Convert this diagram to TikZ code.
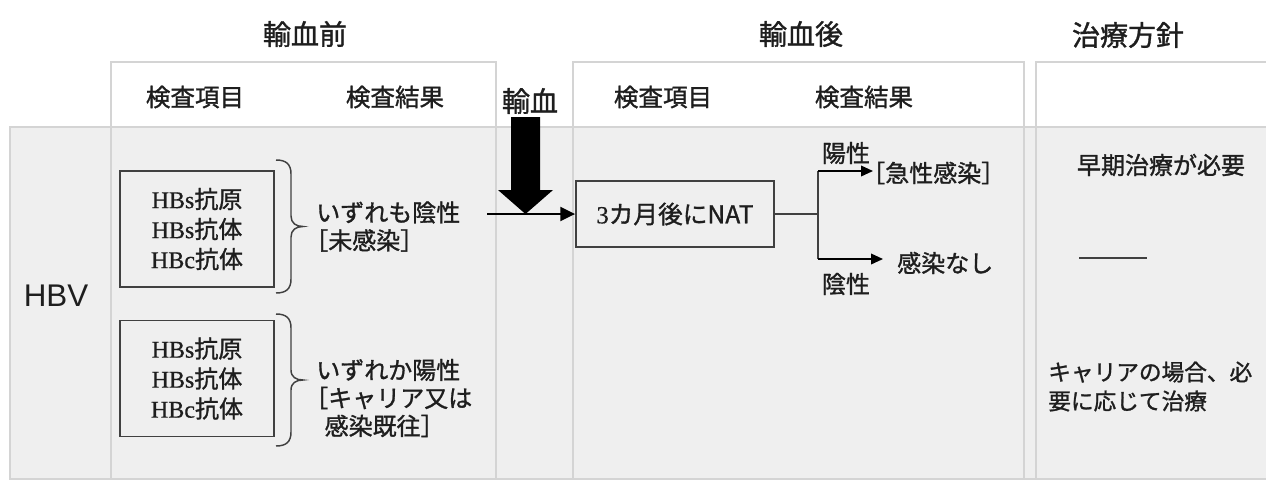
\documentclass[tikz,border=0pt]{standalone}
\usepackage{fontspec}
\setmainfont{Liberation Serif}[FakeBold=0.6]
\newfontfamily\jp{Noto Sans CJK JP}[FakeBold=1.2]
\newfontfamily\jph{Noto Sans CJK JP}[RawFeature=+halt,FakeBold=1.2]
\newfontfamily\arialf{Liberation Sans}
\usetikzlibrary{arrows.meta}
\definecolor{band}{HTML}{EFEFEF}
\definecolor{grid}{HTML}{D4D4D4}
\definecolor{ink}{HTML}{1E1E1E}
\definecolor{boxc}{HTML}{404040}
\newcommand\lbk{{\jph ［}}
\newcommand\rbk{{\jph ］}}
\newcommand\hbl[2]{#1{\jp #2}}
\tikzset{
  txt/.style={font=\jp\fontsize{18}{21}\selectfont, text=ink, inner sep=0pt, align=left},
  titletxt/.style={font=\jp\fontsize{21}{24}\selectfont, text=ink, inner sep=0pt},
  headtxt/.style={font=\jp\fontsize{18.4}{22}\selectfont, text=ink, inner sep=0pt},
  testbox/.style={draw=boxc, line width=1.4pt, minimum width=115.5pt, minimum height=87pt,
    align=center, inner sep=0pt, font=\fontsize{18}{22.5}\selectfont, text=ink},
  natbox/.style={draw=boxc, line width=1.4pt, minimum width=148.5pt, minimum height=49.5pt,
    inner sep=0pt, font=\jp\fontsize{18.5}{20}\selectfont, text=ink},
  gridline/.style={draw=grid, line width=0.8pt},
  bracepath/.style={draw=boxc, line width=1.1pt},
  conn/.style={draw=boxc, line width=1.1pt},
  harrow/.style={draw=black, line width=1.5pt, -{Triangle[length=11pt,width=10.5pt]}},
  barrow/.style={draw=black, line width=1.1pt, -{Triangle[length=9pt,width=8pt]}},
}
\begin{document}
\begin{tikzpicture}[x=0.75pt,y=-0.75pt]
\fill[white] (0,0) rectangle (1266,482);
\useasboundingbox (0,0) rectangle (1266,482);
% band
\path[fill=band, draw=grid, line width=0.9pt] (10,127) rectangle (1272,479);
% columns
\draw[gridline] (111,62) rectangle (496,479);
\draw[gridline] (573,62) rectangle (1024,479);
\draw[gridline] (1272,62) -- (1036,62) -- (1036,479);
% titles
\node[titletxt] (t1) at (305,34) {輸血前};
\node[titletxt] (t2) at (801,34) {輸血後};
\node[titletxt] (t3) at (1128,35) {治療方針};
% headers
\node[headtxt] (h1) at (195,97) {検査項目};
\node[headtxt] (h2) at (395,97) {検査結果};
\node[titletxt] (h3) at (530,101) {輸血};
\node[headtxt] (h4) at (663,97) {検査項目};
\node[headtxt] (h5) at (864,97) {検査結果};
% HBV
\node[font=\arialf\fontsize{23.5}{23.5}\selectfont, text=ink, inner sep=0pt] (hbv) at (56,296) {HBV};
% test boxes
\node[testbox] (b1) at (197,229) {\hbl{HBs}{抗原}\\\hbl{HBs}{抗体}\\\hbl{HBc}{抗体}};
\node[testbox] (b2) at (197,378.5) {\hbl{HBs}{抗原}\\\hbl{HBs}{抗体}\\\hbl{HBc}{抗体}};
% braces
\draw[bracepath] (276,160) .. controls (286,160) and (291,164) .. (291,174) -- (291,216)
  .. controls (291,223) and (296,226.5) .. (303,226.5)
  .. controls (296,226.5) and (291,230) .. (291,237) -- (291,279)
  .. controls (291,289) and (286,293) .. (276,293);
\draw[bracepath] (276,314) .. controls (286,314) and (291,318) .. (291,328) -- (291,370)
  .. controls (291,377) and (296,380) .. (303,380)
  .. controls (296,380) and (291,383) .. (291,390) -- (291,432)
  .. controls (291,442) and (286,446) .. (276,446);
% results
\node[txt, anchor=west] (r1) at (316,226.5) {いずれも陰性\\\lbk 未感染\rbk};
\node[txt, anchor=west] (r2) at (316,398) {いずれか陽性\\\lbk キャリア又は\\\hspace*{0.35em}感染既往\rbk};
% NAT box
\node[natbox] (nat) at (675,214) {{\rmfamily 3}カ月後にNAT};
% transfusion arrow
\coordinate (in) at (487,214);
\draw[harrow] (in) -- (in -| nat.west);
\fill[black] (511,117) -- (540,117) -- (540,190) -- (553,190) -- (525.5,214) -- (498,190) -- (511,190) -- cycle;
% branches
\coordinate (j) at (818,214);
\coordinate (jt) at (818,171);
\coordinate (jb) at (818,259);
\node[txt, anchor=west] (acute) at (873,173) {\lbk 急性感染\rbk};
\node[txt, anchor=west, inner xsep=10.5pt] (none) at (883,263) {感染なし};
\node[txt] (pos) at (846,153) {陽性};
\node[txt] (neg) at (846,284) {陰性};
\draw[conn] (nat.east) -- (j);
\draw[conn] (jt) -- (jb);
\draw[barrow] (jt) -- (jt -| acute.west);
\draw[barrow] (jb) -- (jb -| none.west);
% treatment column
\node[txt] (early) at (1161,165) {早期治療が必要};
\coordinate (d1) at (1079,258);
\coordinate (d2) at (1147,258);
\draw[draw=boxc, line width=1pt] (d1) -- (d2);
\node[txt, anchor=west, font=\jp\fontsize{17}{21.75}\selectfont] (carrier) at (1048,386.5) {キャリアの場合、必\\要に応じて治療};
\end{tikzpicture}
\end{document}
